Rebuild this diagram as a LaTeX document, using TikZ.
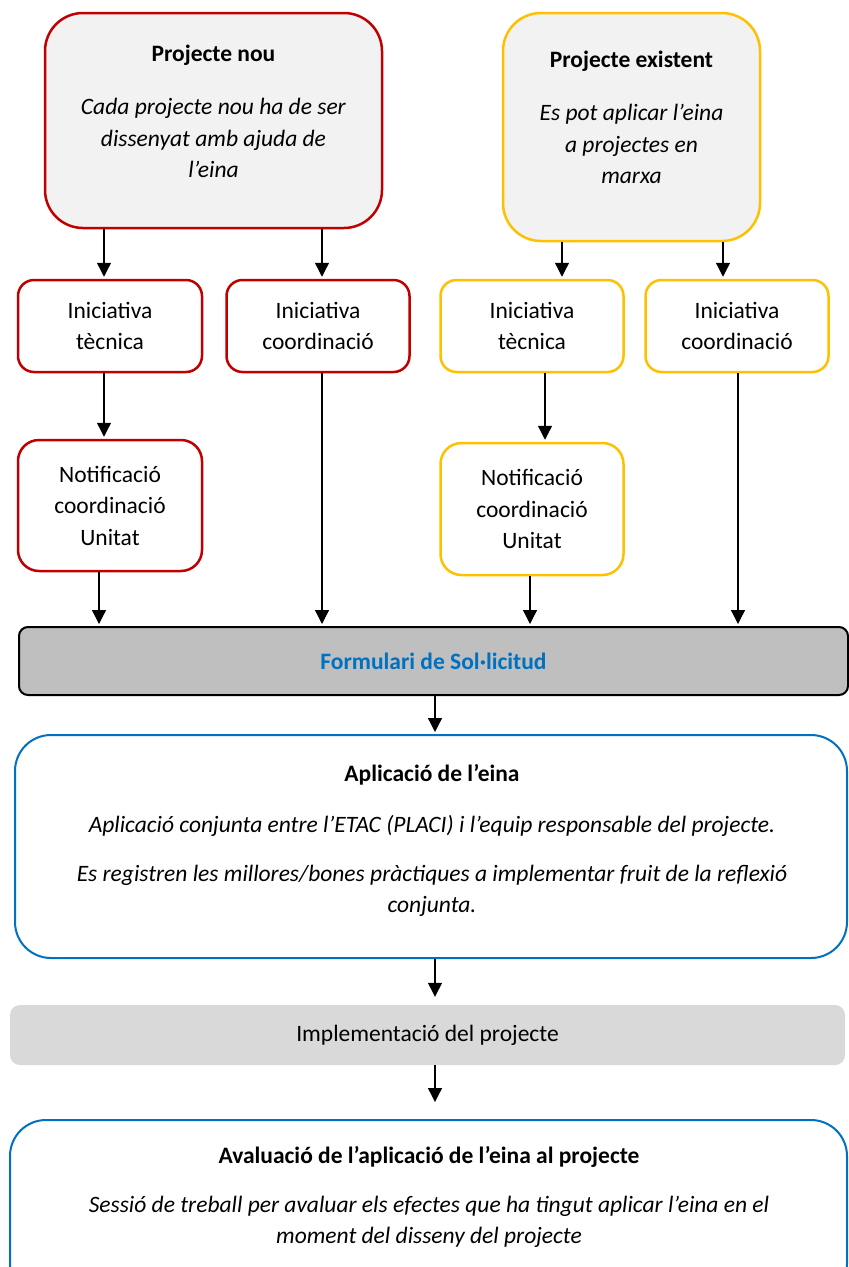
\documentclass[tikz,border=0pt]{standalone}
\usepackage{fontspec}
\setmainfont{Carlito}
\usepackage{tikz}
\usetikzlibrary{arrows.meta}

\definecolor{vermell}{HTML}{C00000}
\definecolor{groc}{HTML}{FFC000}
\definecolor{blau}{HTML}{0070C0}
\definecolor{grisclar}{HTML}{F2F2F2}
\definecolor{grisform}{HTML}{BFBFBF}
\definecolor{grisimpl}{HTML}{D9D9D9}

\begin{document}
\begin{tikzpicture}[x=1pt,y=-1pt,>={Triangle[width=14pt,length=14pt]},
	red node/.style={rectangle,rounded corners=16pt,draw=vermell,line width=2.5pt,fill=white,align=center,inner sep=0pt,minimum width=183pt,minimum height=92pt},
	yellow node/.style={red node,draw=groc},
	blue node/.style={rectangle,rounded corners=36pt,draw=blau,line width=2pt,fill=white,inner sep=0pt},
	text node/.style={align=center,inner sep=0pt},
	fletxa/.style={->,line width=1.3pt,shorten >=2pt}]
	\tikzstyle{every node}=[font=\fontsize{23.5}{31.5}\selectfont]
	\useasboundingbox (0,0) rectangle (849,1267);
	\clip (0,0) rectangle (849,1267);

	% projectes d'origen
	\node[red node,fill=grisclar,minimum width=337pt,minimum height=215pt,rounded corners=38pt] (nou) at (213.5,120.5) {};
	\node[text node] (nouT) at (213.5,111.5) {\textbf{Projecte nou}\\[22pt]\textit{Cada projecte nou ha de ser}\\\textit{dissenyat amb ajuda de}\\\textit{l’eina}};
	\node[yellow node,fill=grisclar,minimum width=257pt,minimum height=228pt,rounded corners=38pt] (exist) at (631.5,127) {};
	\node[text node] (existT) at (631.5,117.5) {\textbf{Projecte existent}\\[22pt]\textit{Es pot aplicar l’eina}\\\textit{a projectes en}\\\textit{marxa}};

	% iniciatives
	\node[red node,minimum width=184pt] (tecR) at (110,326) {Iniciativa\\tècnica};
	\node[red node] (coordR) at (318,326) {Iniciativa\\coordinació};
	\node[yellow node] (tecY) at (532,326) {Iniciativa\\tècnica};
	\node[yellow node] (coordY) at (737,326) {Iniciativa\\coordinació};
	\node[red node,minimum width=184pt,minimum height=131pt,rounded corners=21pt] (notR) at (110,505.5) {Notificació\\coordinació\\Unitat};
	\node[yellow node,minimum height=132pt,rounded corners=21pt] (notY) at (532,509) {Notificació\\coordinació\\Unitat};

	% cami comu
	\node[rectangle,rounded corners=9pt,draw=black,line width=2pt,fill=grisform,minimum width=829pt,minimum height=68pt,inner sep=0pt,text=blau] (form) at (433.5,661) {\textbf{Formulari de Sol·licitud}};
	\node[blue node,minimum width=832pt,minimum height=223pt] (aplic) at (431,846.5) {};
	\node[text node] (aplicT) at (432,840.5) {\textbf{Aplicació de l’eina}\\[20pt]\textit{Aplicació conjunta entre l’ETAC (PLACI) i l’equip responsable del projecte.}\\[17pt]\textit{Es registren les millores/bones pràctiques a implementar fruit de la reflexió}\\\textit{conjunta.}};
	\node[rectangle,rounded corners=10pt,fill=grisimpl,minimum width=835pt,minimum height=60pt,inner sep=0pt] (impl) at (427.5,1035) {Implementació del projecte};
	\node[blue node,minimum width=837pt,minimum height=180pt] (aval) at (428.5,1210) {};
	\node[text node] (avalT) at (429,1197) {\textbf{Avaluació de l’aplicació de l’eina al projecte}\\[17pt]\textit{Sessió de treball per avaluar els efectes que ha tingut aplicar l’eina en el}\\\textit{moment del disseny del projecte}};

	% fletxes
	\draw[fletxa] ([xshift=-6pt]tecR.north |- nou.south) -- ([xshift=-6pt]tecR.north);
	\draw[fletxa] ([xshift=4pt]coordR.north |- nou.south) -- ([xshift=4pt]coordR.north);
	\draw[fletxa] ([xshift=30pt]tecY.north |- exist.south) -- ([xshift=30pt]tecY.north);
	\draw[fletxa] ([xshift=-14pt]coordY.north |- exist.south) -- ([xshift=-14pt]coordY.north);
	\draw[fletxa] ([xshift=-6pt]tecR.south) -- ([xshift=-6pt]notR.north);
	\draw[fletxa] ([xshift=13pt]tecY.south) -- ([xshift=13pt]notY.north);
	\draw[fletxa] ([xshift=-11pt]notR.south) -- ([xshift=-11pt]notR.south |- form.north);
	\draw[fletxa] ([xshift=4pt]coordR.south) -- ([xshift=4pt]coordR.south |- form.north);
	\draw[fletxa] ([xshift=-2pt]notY.south) -- ([xshift=-2pt]notY.south |- form.north);
	\draw[fletxa] ([xshift=1pt]coordY.south) -- ([xshift=1pt]coordY.south |- form.north);
	\draw[fletxa] ([xshift=1.5pt]form.south) -- ([xshift=1.5pt]form.south |- aplic.north);
	\draw[fletxa,shorten >=8pt] ([xshift=4pt]aplic.south) -- ([xshift=4pt]aplic.south |- impl.north);
	\draw[fletxa,shorten >=17pt] ([xshift=7.5pt]impl.south) -- ([xshift=7.5pt]impl.south |- aval.north);
\end{tikzpicture}
\end{document}
